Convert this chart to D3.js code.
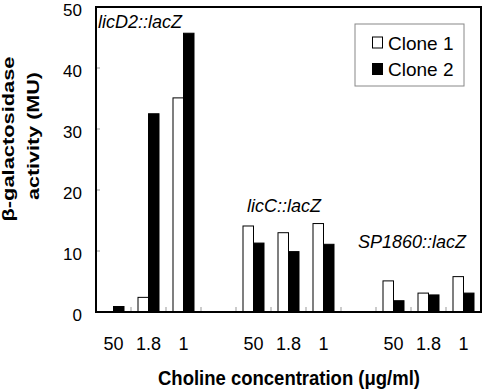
<!DOCTYPE html>
<html>
<head>
<meta charset="utf-8">
<script src="https://cdn.jsdelivr.net/npm/d3@7"></script>
<style>
  body { margin: 0; background: #fff; }
  text { font-family: "Liberation Sans", Arial, sans-serif; fill: #000; }
</style>
</head>
<body>
<div id="chart"></div>
<script>
// data
const genes = ["licD2::lacZ", "licC::lacZ", "SP1860::lacZ"];
const concentrations = ["50", "1.8", "1"];
const clone1 = [0, 2.4, 35.1, 14.1, 13.0, 14.5, 5.1, 3.1, 5.8];
const clone2 = [0.9, 32.5, 45.7, 11.3, 9.9, 11.1, 1.85, 2.8, 3.1];
const seriesNames = ["Clone 1", "Clone 2"];
const yTicks = [0, 10, 20, 30, 40, 50];

const W = 484, H = 390;
const margin = {top: 7, right: 3, bottom: 78, left: 96};
const w = W - margin.left - margin.right;
const h = H - margin.top - margin.bottom;

// 11 slots: 3 per gene plus an empty gap between genes
const slots = [];
genes.forEach((g, gi) => {
  concentrations.forEach((c, ci) => slots.push({key: gi * 4 + ci, label: c, gi, ci}));
  if (gi < genes.length - 1) slots.push({key: gi * 4 + 3, label: "", gap: true});
});

const x0 = d3.scaleBand().domain(d3.range(slots.length)).range([0, w]).padding(0);
const bw = x0.bandwidth();
const x1 = d3.scaleBand().domain([0, 1]).range([bw * 0.2, bw * 0.8]).padding(0);
const y = d3.scaleLinear().domain([0, 50]).range([h, 0]);

const svg = d3.select("#chart").append("svg").attr("width", W).attr("height", H);
const g = svg.append("g").attr("transform", `translate(${margin.left},${margin.top})`);

// bars
const barData = [];
slots.filter(s => !s.gap).forEach(s => {
  const idx = s.gi * 3 + s.ci;
  barData.push({slot: s.key, series: 0, value: clone1[idx]});
  barData.push({slot: s.key, series: 1, value: clone2[idx]});
});

g.selectAll(".bar")
  .data(barData.filter(d => d.value > 0))
  .enter().append("rect")
  .attr("class", "bar")
  .attr("x", d => x0(d.slot) + x1(d.series))
  .attr("width", x1.bandwidth())
  .attr("y", d => y(d.value))
  .attr("height", d => y(0) - y(d.value))
  .attr("fill", d => d.series === 0 ? "#fff" : "#000")
  .attr("stroke", "#000")
  .attr("stroke-width", 1);

// inward grey ticks on x (slot boundaries) and y
g.selectAll(".xtick")
  .data(d3.range(1, slots.length))
  .enter().append("line")
  .attr("x1", d => x0(d)).attr("x2", d => x0(d))
  .attr("y1", h).attr("y2", h - 5)
  .attr("stroke", "#999").attr("stroke-width", 1);

g.selectAll(".ytick")
  .data(yTicks.slice(1, -1))
  .enter().append("line")
  .attr("x1", 0).attr("x2", 4)
  .attr("y1", d => y(d)).attr("y2", d => y(d))
  .attr("stroke", "#999").attr("stroke-width", 1);

// frame
g.append("rect")
  .attr("x", 0).attr("y", 0).attr("width", w).attr("height", h)
  .attr("fill", "none").attr("stroke", "#000").attr("stroke-width", 2);

// y tick labels
g.selectAll(".ylab")
  .data(yTicks)
  .enter().append("text")
  .attr("x", -14).attr("y", d => y(d) + 9)
  .attr("text-anchor", "end")
  .style("font-size", "17px")
  .text(d => d);

// x tick labels
g.selectAll(".xlab")
  .data(slots.filter(s => !s.gap))
  .enter().append("text")
  .attr("x", d => x0(d.key) + bw / 2)
  .attr("y", h + 38)
  .attr("text-anchor", "middle")
  .style("font-size", "18px")
  .text(d => d.label);

// gene annotations
const genePos = [
  {x: 2, y: 28 - margin.top},
  {x: 151, y: 212 - margin.top},
  {x: 262, y: 248 - margin.top}
];
g.selectAll(".gene")
  .data(genes)
  .enter().append("text")
  .attr("x", (d, i) => genePos[i].x)
  .attr("y", (d, i) => genePos[i].y)
  .style("font-size", "18px")
  .style("font-style", "italic")
  .text(d => d);

// legend
const lg = svg.append("g").attr("transform", "translate(355,24)");
lg.append("rect")
  .attr("width", 109).attr("height", 62)
  .attr("fill", "#fff").attr("stroke", "#888").attr("stroke-width", 1);
seriesNames.forEach((name, i) => {
  lg.append("rect")
    .attr("x", 17.5).attr("y", 13 + i * 26.5)
    .attr("width", 10).attr("height", 11)
    .attr("fill", i === 0 ? "#fff" : "#000")
    .attr("stroke", "#000").attr("stroke-width", 1);
  lg.append("text")
    .attr("x", 33).attr("y", 25.5 + i * 26.5)
    .style("font-size", "19px")
    .text(name);
});

// axis titles
svg.append("text")
  .attr("x", 158).attr("y", 385)
  .attr("textLength", 262).attr("lengthAdjust", "spacingAndGlyphs")
  .style("font-size", "20px").style("font-weight", "bold")
  .text("Choline concentration (μg/ml)");

const yt = svg.append("g").attr("transform", "translate(0,139) rotate(-90)");
yt.append("text")
  .attr("x", 0).attr("y", 14)
  .attr("text-anchor", "middle")
  .attr("textLength", 165).attr("lengthAdjust", "spacingAndGlyphs")
  .style("font-size", "17px").style("font-weight", "bold")
  .text("β-galactosidase");
yt.append("text")
  .attr("x", 3).attr("y", 39)
  .attr("text-anchor", "middle")
  .attr("textLength", 128).attr("lengthAdjust", "spacingAndGlyphs")
  .style("font-size", "17px").style("font-weight", "bold")
  .text("activity (MU)");
</script>
</body>
</html>
